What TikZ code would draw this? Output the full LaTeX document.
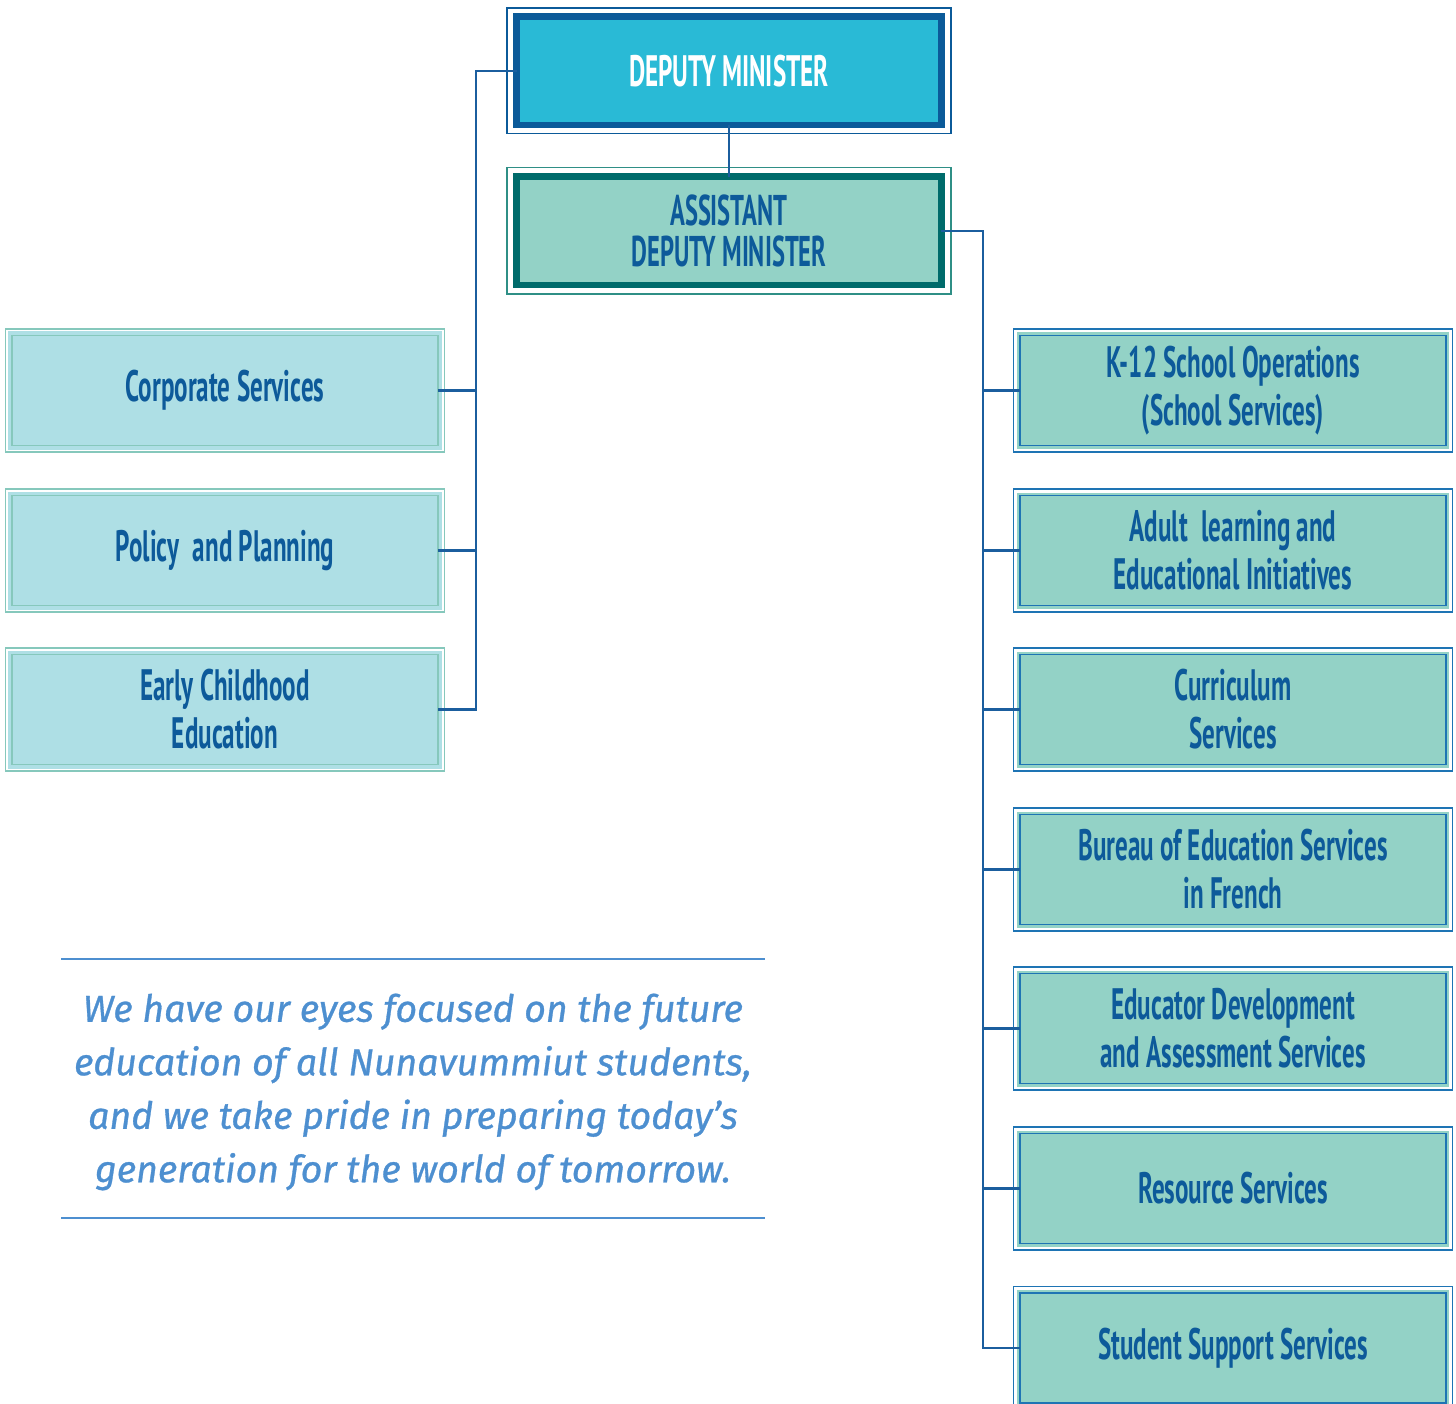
\documentclass[tikz,border=0pt]{standalone}
\usepackage{fontspec}
\setmainfont{PT Sans}
\newfontfamily\condfont[FakeStretch=0.57]{PT Sans}
\newfontfamily\quotefont[FakeBold=0.8]{Fira Sans}
\usetikzlibrary{backgrounds}
\definecolor{dmfill}{HTML}{29BAD6}
\definecolor{dmline}{HTML}{0B5A99}
\definecolor{admfill}{HTML}{93D2C6}
\definecolor{admline}{HTML}{006B6B}
\definecolor{admouter}{HTML}{2F8F86}
\definecolor{lfill}{HTML}{AEDFE5}
\definecolor{lline}{HTML}{86C8BC}
\definecolor{rfill}{HTML}{93D2C6}
\definecolor{rline}{HTML}{1E74B4}
\definecolor{txt}{HTML}{0D5A9A}
\definecolor{conncol}{HTML}{1B5E9E}
\definecolor{quotecol}{HTML}{4D8FD0}
\begin{document}
\begin{tikzpicture}[x=1pt,y=-1pt,
  boxtext/.style={font=\condfont\bfseries\fontsize{44}{48}\selectfont, align=center, text=txt},
  topbox/.style={boxtext, minimum width=424.7pt, minimum height=108.3pt, line width=6.7pt, inner sep=0pt, outer sep=0pt},
  dmbox/.style={topbox, draw=dmline, fill=dmfill, text=white},
  admbox/.style={topbox, draw=admline, fill=admfill, font=\condfont\bfseries\fontsize{43}{41}\selectfont},
  unitbox/.style={boxtext, minimum width=426pt, minimum height=110pt, line width=1.5pt, inner sep=0pt, outer sep=0pt},
  lbox/.style={unitbox, draw=lline, fill=lfill},
  rbox/.style={unitbox, draw=rline, fill=rfill},
  link/.style={draw=conncol, line width=2.5pt},
  rulestyle/.style={draw=quotecol, line width=2.5pt}]
\useasboundingbox (0,0) rectangle (1456,1404);

% top boxes
\node[dmbox] (dm) at (729,70.8) {DEPUTY MINISTER};
\node[admbox] (adm) at (729,230.8) {ASSISTANT\\DEPUTY MINISTER};

% left boxes
\node[lbox] (cs) at (225,390.5) {Corporate Services};
\node[lbox] (pp) at (225,550.5) {Policy\,\ and Planning};
\node[lbox] (ec) at (225,709.5) {Early Childhood\\Education};

% right boxes
\node[rbox] (k12) at (1233,390.5) {K-12 School Operations\\(School Services)};
\node[rbox] (al) at (1233,550.5) {Adult\,\ learning and\\Educational Initiatives};
\node[rbox] (cu) at (1233,709.5) {Curriculum\\Services};
\node[rbox] (bf) at (1233,869.5) {Bureau of Education Services\\in French};
\node[rbox] (ed) at (1233,1028.5) {Educator Development\\and Assessment Services};
\node[rbox] (rs) at (1233,1188.5) {Resource Services};
\node[rbox] (ss) at (1233,1348) {Student Support Services};

% frames
\begin{scope}[on background layer]
  \draw[dmline, line width=1.5pt] ([xshift=-9.5pt,yshift=8.5pt]dm.north west) rectangle ([xshift=9.5pt,yshift=-8.5pt]dm.south east);
  \draw[admouter, line width=1.5pt] ([xshift=-9.5pt,yshift=9pt]adm.north west) rectangle ([xshift=9.5pt,yshift=-9pt]adm.south east);
  \foreach \n in {cs,pp,ec} {
    \fill[lfill] ([xshift=-4pt,yshift=4pt]\n.north west) rectangle ([xshift=4pt,yshift=-4pt]\n.south east);
    \draw[lline, line width=1.2pt] ([xshift=-6.5pt,yshift=6.5pt]\n.north west) rectangle ([xshift=6.5pt,yshift=-6.5pt]\n.south east);
  }
  \foreach \n in {k12,al,cu,bf,ed,rs,ss} {
    \fill[rfill] ([xshift=-3pt,yshift=3pt]\n.north west) rectangle ([xshift=3pt,yshift=-3pt]\n.south east);
    \draw[rline, line width=1.2pt] ([xshift=-6.5pt,yshift=6.5pt]\n.north west) rectangle ([xshift=6.5pt,yshift=-6.5pt]\n.south east);
  }
\end{scope}

% connectors
\coordinate (lt) at (476,70.8);
\coordinate (rt) at (983,230.8);
\draw[link] (dm.south) -- (adm.north);
\draw[link] (dm.west) -- (lt) |- (ec.east);
\draw[link] (cs.east) -- (cs.east -| lt);
\draw[link] (pp.east) -- (pp.east -| lt);
\draw[link] (adm.east) -- (rt) |- (ss.west);
\foreach \n in {k12,al,cu,bf,ed,rs} {
  \draw[link] (\n.west) -- (\n.west -| rt);
}

% quote
\draw[rulestyle] (61,959) -- (765,959);
\draw[rulestyle] (61,1218) -- (765,1218);
\node[font=\quotefont\itshape\fontsize{37.5}{53.5}\selectfont, text=quotecol, align=center] (quote) at (413,1092)
  {We have our eyes focused on the future\\education of all Nunavummiut students,\\and we take pride in preparing today’s\\generation for the world of tomorrow.};
\end{tikzpicture}
\end{document}
